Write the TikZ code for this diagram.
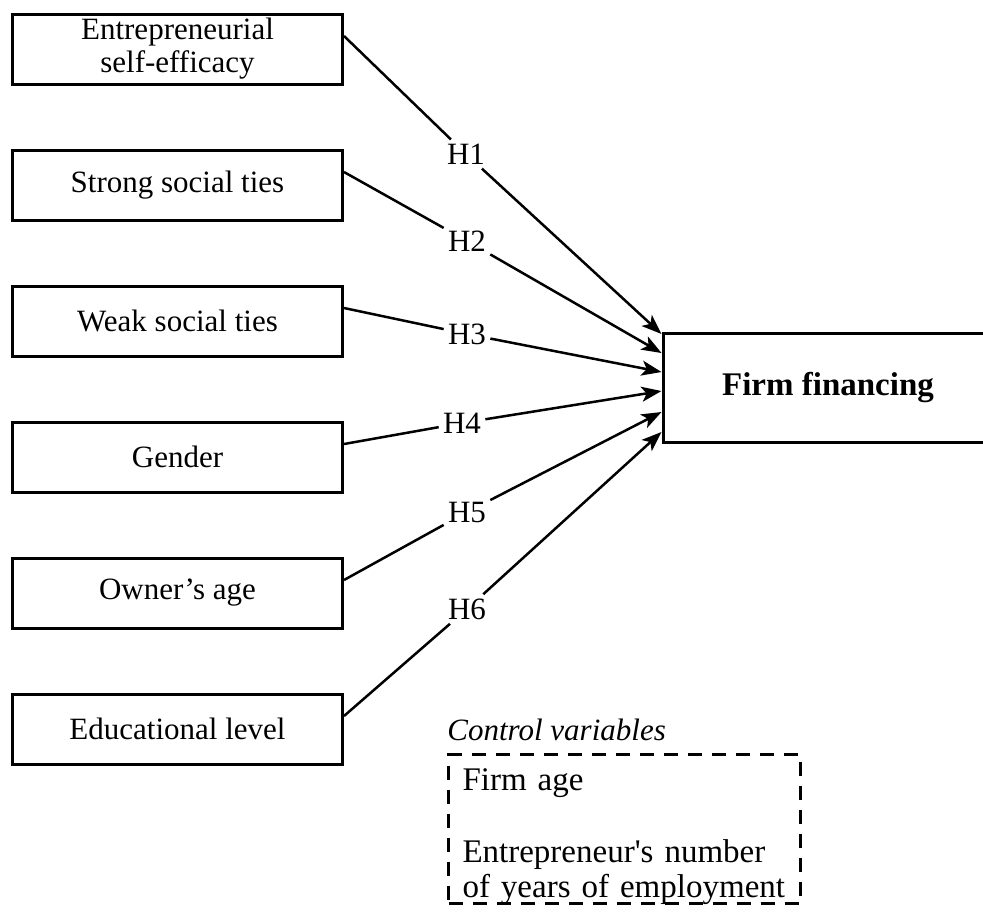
\documentclass[tikz,border=0pt]{standalone}
\usepackage{fontspec}
\setmainfont{Liberation Serif}
\usetikzlibrary{arrows.meta}
\usetikzlibrary{positioning}

\begin{document}
\begin{tikzpicture}[x=0.5pt,y=-0.5pt,node distance=31.5pt,
  box/.style={draw,line width=1.5pt,minimum width=165pt,minimum height=35pt,align=center,inner sep=2pt,font=\fontsize{15.5}{16.5}\selectfont},
  hyp/.style={inner sep=2pt,font=\fontsize{15.5}{16}\selectfont},
  arr/.style={line width=1.25pt,-{Stealth[length=10pt,width=7.5pt,inset=2.5pt]}}]
\useasboundingbox (0,0) rectangle (983,911);
\node[box] (b1) at (177.5,49) {Entrepreneurial\\self-efficacy};
\node[box] (b2) [below=of b1] {Strong social ties};
\node[box] (b3) [below=of b2] {Weak social ties};
\node[box] (b4) [below=of b3] {Gender};
\node[box] (b5) [below=of b4] {Owner’s age};
\node[box] (b6) [below=of b5] {Educational level};
\node[box,minimum width=165pt,minimum height=54.5pt,font=\bfseries\fontsize{16.5}{18}\selectfont] (ff) at (828,387.5) {Firm financing};

\node[hyp] (h1) at (466,154) {H1};
\node[hyp] (h2) at (467,241) {H2};
\node[hyp] (h3) at (467,334) {H3};
\node[hyp] (h4) at (462,423) {H4};
\node[hyp] (h5) at (467,512) {H5};
\node[hyp] (h6) at (467,609) {H6};

\draw[arr] ([yshift=6.5pt]b1.east) -- (h1) -- ([yshift=26.75pt]ff.west);
\draw[arr] ([yshift=6.5pt]b2.east) -- (h2) -- ([yshift=17.25pt]ff.west);
\draw[arr] ([yshift=6.5pt]b3.east) -- (h3) -- ([yshift=7.75pt]ff.west);
\draw[arr] ([yshift=6.5pt]b4.east) -- (h4) -- ([yshift=-1.75pt]ff.west);
\draw[arr] ([yshift=6.5pt]b5.east) -- (h5) -- ([yshift=-12.25pt]ff.west);
\draw[arr] ([yshift=6.5pt]b6.east) -- (h6) -- ([yshift=-22.25pt]ff.west);

\node (ctrl) [draw,dash pattern=on 7pt off 5pt,line width=1.5pt,anchor=north west,minimum width=176pt,text width=162pt,inner xsep=7pt,inner ysep=0pt,text height=17.75pt,text depth=56.75pt,align=left,font=\fontsize{16.5}{17.5}\selectfont] at (447,753) {Firm age\\[18.5pt]Entrepreneur\textquotesingle s number\\of years of employment};
\node (ctitle) [above right=6pt and 0pt of ctrl.north west,inner sep=0pt,font=\itshape\fontsize{15.5}{16}\selectfont] {Control variables};
\end{tikzpicture}
\end{document}
